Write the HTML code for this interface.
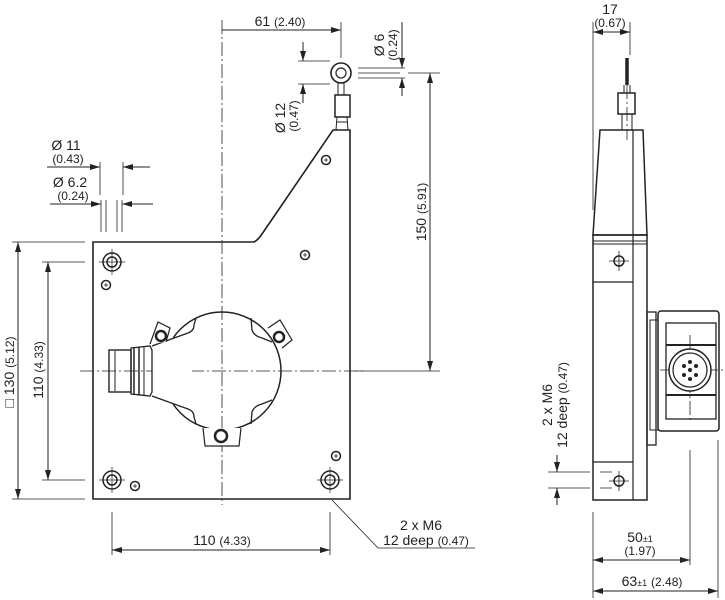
<!DOCTYPE html>
<html><head><meta charset="utf-8"><style>
html,body{margin:0;padding:0;background:#fff}
svg{display:block}
text{font-family:"Liberation Sans",sans-serif;fill:#222}
</style></head><body>
<svg width="725" height="600" viewBox="0 0 725 600" xmlns="http://www.w3.org/2000/svg">
<defs>
<marker id="a" markerWidth="10" markerHeight="6" refX="10" refY="3" orient="auto-start-reverse" markerUnits="userSpaceOnUse"><path d="M0,0 L10,3 L0,6z" fill="#222"/></marker>
</defs>
<g stroke="#222" fill="none" stroke-width="1">
<g stroke-dasharray="14,3,2,3" stroke-width="0.8">
<line x1="222" y1="20" x2="222" y2="505"/>
<line x1="80" y1="371" x2="365" y2="371"/>
<line x1="627" y1="85" x2="627" y2="140"/>
<line x1="690" y1="335" x2="690" y2="420"/>
<line x1="660" y1="370" x2="725" y2="370"/>
</g>
<path d="M93,242 L254,242 Q258,240 262,234 L333,130 L350,130 L350,499 L93,499 Z" stroke-width="1.6"/>
<circle cx="341" cy="73" r="10" stroke-width="1.6"/>
<circle cx="341" cy="73" r="5" stroke-width="1.2"/>
<line x1="338" y1="83" x2="338" y2="95"/><line x1="344" y1="83" x2="344" y2="95"/>
<rect x="335" y="95" width="15" height="22" stroke-width="1.5"/>
<path d="M337,117 L336,130 M347,117 L348,130 M337,122 L347,122"/>
<circle cx="222" cy="371" r="59" stroke-width="1.5"/>
<path d="M152,346 L165,340 L192,332 L192,410 L165,402 L152,396 Z" fill="#fff" stroke="none"/>
<path d="M152,346 L188,333 Q194,331 194,325 L196,318 M152,396 L188,409 Q194,411 194,417 L196,424" stroke-width="1.3"/>
<path d="M251,318 L252,330 Q254,336 262,338 L272,342 M251,424 L252,412 Q254,406 262,404 L272,400" stroke-width="1.3"/>
<path d="M150,344 L158,322 L170,328 L166,342" stroke-width="1.2" fill="#fff"/>
<circle cx="161" cy="336" r="5" stroke-width="2.5"/>
<path d="M268,328 L280,320 L292,340 L282,348" stroke-width="1.2" fill="#fff"/>
<circle cx="279" cy="337" r="5" stroke-width="2.5"/>
<path d="M203,428 L205,446 L239,446 L241,428" stroke-width="1.2" fill="#fff"/>
<circle cx="221" cy="436" r="6" stroke-width="2.5"/>
<rect x="109" y="350" width="22" height="42" stroke-width="1.4"/>
<path d="M131,348 L150,346 L152,350 L152,392 L150,396 L131,394 Z" stroke-width="1.3"/>
<line x1="134" y1="348" x2="134" y2="394" stroke-width="1.5"/>
<line x1="139" y1="347" x2="139" y2="395" stroke-width="1.5"/>
<line x1="144" y1="347" x2="144" y2="395"/>
<line x1="115" y1="351" x2="115" y2="391"/>
<g stroke-width="1.5">
<circle cx="112" cy="262" r="9"/><circle cx="112" cy="262" r="5"/>
<circle cx="112" cy="480" r="9"/><circle cx="112" cy="480" r="5"/>
<circle cx="330" cy="480" r="9"/><circle cx="330" cy="480" r="5"/>
<circle cx="106" cy="285" r="4.5"/><circle cx="305" cy="255" r="4.5"/>
<circle cx="135" cy="486" r="4.5"/><circle cx="336" cy="456" r="4.5"/>
<circle cx="326" cy="160" r="4.5"/>
</g>
<path d="M99,262 L125,262 M112,249 L112,275 M99,480 L125,480 M112,467 L112,493 M317,480 L343,480 M330,467 L330,493" stroke-width="0.7"/>
<path d="M104,285 L108,285 M106,283 L106,287 M303,255 L307,255 M305,253 L305,257 M133,486 L137,486 M135,484 L135,488 M334,456 L338,456 M336,454 L336,458 M324,160 L328,160 M326,158 L326,162" stroke-width="0.8"/>
<line x1="222" y1="30" x2="341" y2="30" marker-end="url(#a)"/>
<line x1="341" y1="22" x2="341" y2="58" stroke-width="0.8"/>
<line x1="298" y1="61" x2="330" y2="61" stroke-width="0.8"/>
<line x1="298" y1="84" x2="330" y2="84" stroke-width="0.8"/>
<line x1="303" y1="42" x2="303" y2="61" marker-end="url(#a)"/>
<line x1="303" y1="103" x2="303" y2="84" marker-end="url(#a)"/>
<line x1="358" y1="68" x2="405" y2="68" stroke-width="0.8"/>
<line x1="358" y1="73" x2="400" y2="73" stroke-width="0.8"/>
<line x1="358" y1="78" x2="405" y2="78" stroke-width="0.8"/>
<line x1="402" y1="22" x2="402" y2="68" marker-end="url(#a)"/>
<line x1="402" y1="96" x2="402" y2="78" marker-end="url(#a)"/>
<line x1="408" y1="73" x2="440" y2="73" stroke-width="0.8"/>
<line x1="355" y1="371" x2="440" y2="371" stroke-width="0.8"/>
<line x1="430" y1="73" x2="430" y2="371" marker-start="url(#a)" marker-end="url(#a)"/>
<line x1="47" y1="167" x2="100" y2="167" marker-end="url(#a)"/>
<line x1="150" y1="167" x2="123" y2="167" marker-end="url(#a)"/>
<line x1="100" y1="162" x2="100" y2="195" stroke-width="0.8"/>
<line x1="123" y1="162" x2="123" y2="195" stroke-width="0.8"/>
<line x1="50" y1="204" x2="101" y2="204" marker-end="url(#a)"/>
<line x1="153" y1="204" x2="122" y2="204" marker-end="url(#a)"/>
<g stroke-width="0.8"><line x1="101" y1="200" x2="101" y2="232"/><line x1="106" y1="200" x2="106" y2="232"/><line x1="117" y1="200" x2="117" y2="232"/><line x1="122" y1="200" x2="122" y2="232"/>
<line x1="12" y1="242" x2="85" y2="242"/><line x1="12" y1="499" x2="85" y2="499"/>
<line x1="42" y1="262" x2="85" y2="262"/><line x1="42" y1="480" x2="85" y2="480"/>
<line x1="112" y1="512" x2="112" y2="555"/><line x1="330" y1="512" x2="330" y2="555"/></g>
<line x1="18" y1="242" x2="18" y2="499" marker-start="url(#a)" marker-end="url(#a)"/>
<line x1="48" y1="262" x2="48" y2="480" marker-start="url(#a)" marker-end="url(#a)"/>
<line x1="112" y1="550" x2="330" y2="550" marker-start="url(#a)" marker-end="url(#a)"/>
<path d="M332,500 L378,548 L475,548" stroke-width="0.8"/>
<path d="M600,130 L643,130 L647,235 L593,235 Z" stroke-width="1.5"/>
<rect x="593" y="235" width="54" height="265" stroke-width="1.5"/>
<line x1="593" y1="241" x2="647" y2="241"/><line x1="593" y1="244" x2="647" y2="244"/>
<line x1="633" y1="130" x2="633" y2="500" stroke-width="1.2"/>
<line x1="593" y1="282" x2="633" y2="282" stroke-width="1.2"/>
<line x1="593" y1="462" x2="633" y2="462" stroke-width="1.2"/>
<circle cx="619" cy="261" r="5" stroke-width="1.5"/>
<circle cx="619" cy="481" r="5" stroke-width="1.5"/>
<path d="M609,261 L629,261 M619,251 L619,271 M609,481 L629,481 M619,471 L619,491 M600,472 L612,472 M600,488 L612,488" stroke-width="0.8"/>
<line x1="627" y1="58" x2="627" y2="85" stroke-width="3.5"/>
<rect x="618" y="93" width="17" height="21" stroke-width="1.5"/>
<path d="M622,114 L622,130 M632,114 L632,130 M624,85 L624,93 M630,85 L630,93"/>
<rect x="647" y="312" width="9" height="133" stroke-width="1.3"/>
<rect x="650" y="320" width="8" height="110" stroke-width="1"/>
<rect x="658" y="311" width="61" height="120" rx="3" stroke-width="1.5"/>
<rect x="666" y="323" width="50" height="96" stroke-width="1.3"/>
<line x1="666" y1="345" x2="716" y2="345" stroke-width="2"/>
<line x1="666" y1="395" x2="716" y2="395" stroke-width="2"/>
<circle cx="690" cy="370" r="21" fill="#fff" stroke-width="1.5"/>
<circle cx="690" cy="370" r="17" stroke-width="1.2"/>
<g fill="#222" stroke="none"><circle cx="690" cy="362" r="2"/><circle cx="684" cy="366" r="2"/><circle cx="696" cy="366" r="2"/><circle cx="684" cy="375" r="2"/><circle cx="696" cy="375" r="2"/><circle cx="690" cy="379" r="2"/><circle cx="690" cy="370" r="2"/></g>
<g stroke-width="0.8"><line x1="593" y1="22" x2="593" y2="210"/><line x1="630" y1="22" x2="630" y2="55"/>
<line x1="593" y1="512" x2="593" y2="598"/><line x1="690" y1="450" x2="690" y2="565"/><line x1="718" y1="440" x2="718" y2="598"/>
<line x1="548" y1="472" x2="590" y2="472"/><line x1="548" y1="488" x2="590" y2="488"/></g>
<line x1="593" y1="32" x2="630" y2="32" marker-start="url(#a)" marker-end="url(#a)"/>
<line x1="593" y1="560" x2="690" y2="560" marker-start="url(#a)" marker-end="url(#a)"/>
<line x1="593" y1="591" x2="718" y2="591" marker-start="url(#a)" marker-end="url(#a)"/>
<line x1="557" y1="455" x2="557" y2="472" marker-end="url(#a)"/>
<line x1="557" y1="505" x2="557" y2="488" marker-end="url(#a)"/>
</g>
<g font-size="14" text-anchor="middle">
<text x="280" y="26">61 <tspan font-size="12">(2.40)</tspan></text>
<text x="66" y="150">Ø 11</text><text x="68" y="163" font-size="12">(0.43)</text>
<text x="70" y="187">Ø 6.2</text><text x="73" y="200" font-size="12">(0.24)</text>
<text x="222" y="545">110 <tspan font-size="12">(4.33)</tspan></text>
<text x="421" y="530">2 x M6</text>
<text x="426" y="545">12 deep <tspan font-size="12">(0.47)</tspan></text>
<text x="610" y="14">17</text><text x="610" y="27" font-size="12">(0.67)</text>
<text x="640" y="542">50<tspan font-size="9">±1</tspan></text><text x="640" y="555" font-size="12">(1.97)</text>
<text x="652" y="586">63<tspan font-size="9">±1</tspan> <tspan font-size="12">(2.48)</tspan></text>
<text transform="translate(384,45) rotate(-90)">Ø 6</text>
<text transform="translate(397,45) rotate(-90)" font-size="12">(0.24)</text>
<text transform="translate(285,118) rotate(-90)">Ø 12</text>
<text transform="translate(298,116) rotate(-90)" font-size="12">(0.47)</text>
<text transform="translate(426,212) rotate(-90)">150 <tspan font-size="12">(5.91)</tspan></text>
<text transform="translate(14,372) rotate(-90)">□ 130 <tspan font-size="12">(5.12)</tspan></text>
<text transform="translate(43,370) rotate(-90)">110 <tspan font-size="12">(4.33)</tspan></text>
<text transform="translate(552,405) rotate(-90)">2 x M6</text>
<text transform="translate(567,405) rotate(-90)">12 deep <tspan font-size="12">(0.47)</tspan></text>
</g>
</svg>
</body></html>
